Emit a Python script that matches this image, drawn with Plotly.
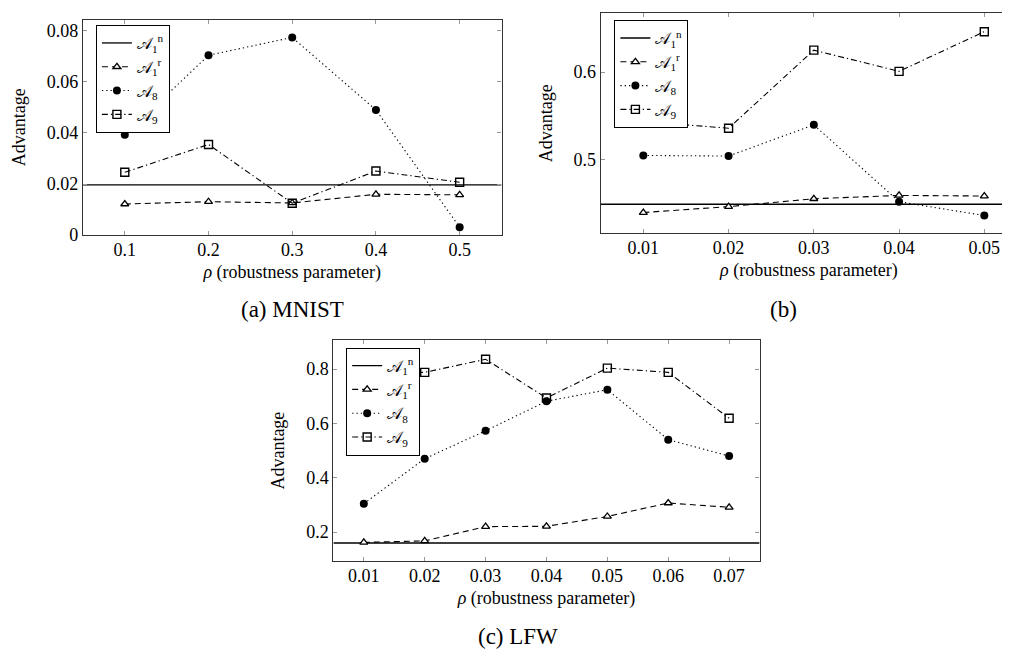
import plotly.graph_objects as go

# ---------------- data ----------------
rho_a = [0.1, 0.2, 0.3, 0.4, 0.5]
a_A1n = 0.0197
a_A1r = [0.0122, 0.0131, 0.0126, 0.0160, 0.0158]
a_A8 = [0.0393, 0.0704, 0.0774, 0.0490, 0.0031]
a_A9 = [0.0246, 0.0355, 0.0125, 0.0251, 0.0207]

rho_b = [0.01, 0.02, 0.03, 0.04, 0.05]
b_A1n = 0.4486
b_A1r = [0.4391, 0.4459, 0.4549, 0.4587, 0.4580]
b_A8 = [0.5045, 0.5038, 0.5395, 0.4515, 0.4357]
b_A9 = [0.5433, 0.5357, 0.6251, 0.6008, 0.6462]

rho_c = [0.01, 0.02, 0.03, 0.04, 0.05, 0.06, 0.07]
c_A1n = 0.160
c_A1r = [0.1623, 0.1680, 0.2203, 0.2215, 0.2577, 0.3072, 0.2915]
c_A8 = [0.3048, 0.4703, 0.5730, 0.6816, 0.7240, 0.5403, 0.4800]
c_A9 = [0.7900, 0.7880, 0.8360, 0.6937, 0.8036, 0.7880, 0.6190]

xt_a = [0.1, 0.2, 0.3, 0.4, 0.5]
xt_a_lbl = ["0.1", "0.2", "0.3", "0.4", "0.5"]
yt_a = [0, 0.02, 0.04, 0.06, 0.08]
yt_a_lbl = ["0", "0.02", "0.04", "0.06", "0.08"]
xt_b = [0.01, 0.02, 0.03, 0.04, 0.05]
xt_b_lbl = ["0.01", "0.02", "0.03", "0.04", "0.05"]
yt_b = [0.5, 0.6]
yt_b_lbl = ["0.5", "0.6"]
xt_c = [0.01, 0.02, 0.03, 0.04, 0.05, 0.06, 0.07]
xt_c_lbl = ["0.01", "0.02", "0.03", "0.04", "0.05", "0.06", "0.07"]
yt_c = [0.2, 0.4, 0.6, 0.8]
yt_c_lbl = ["0.2", "0.4", "0.6", "0.8"]

names = ["𝒜<sub>1</sub><sup>n</sup>", "𝒜<sub>1</sub><sup>r</sup>", "𝒜<sub>8</sub>", "𝒜<sub>9</sub>"]
captions = ["(a) MNIST", "(b)", "(c) LFW"]

W, H = 1010, 653
SERIF = "Liberation Serif, Times New Roman, serif"

panels = [
    dict(x=rho_a, n=a_A1n, r=a_A1r, s8=a_A8, s9=a_A9, xr=[0.05, 0.55], yr=[0.0, 0.0844],
         px=(75, 494), py=(11.7, 230.7), xt=(xt_a, xt_a_lbl), yt=(yt_a, yt_a_lbl),
         leg=(88, 17.3), cap=(284.5, 306)),
    dict(x=rho_b, n=b_A1n, r=b_A1r, s8=b_A8, s9=b_A9, xr=[0.005, 0.005 + (1010 - 593.3) / 8533.0],
         yr=[0.4151, 0.6677], px=(593.3, 1010), py=(5, 229), xt=(xt_b, xt_b_lbl), yt=(yt_b, yt_b_lbl),
         leg=(607, 12.3), cap=(776.7, 306)),
    dict(x=rho_c, n=c_A1n, r=c_A1r, s8=c_A8, s9=c_A9, xr=[0.005, 0.075], yr=[0.0935, 0.9065],
         px=(325.7, 752.3), py=(337.3, 561.7), xt=(xt_c, xt_c_lbl), yt=(yt_c, yt_c_lbl),
         leg=(338.5, 345), cap=(511, 638)),
]

fig = go.Figure()
layout = dict(width=W, height=H, margin=dict(l=0, r=0, t=0, b=0),
              paper_bgcolor="white", plot_bgcolor="white", showlegend=True,
              font=dict(family=SERIF, color="black"))
annotations = []

for i, p in enumerate(panels):
    k = "" if i == 0 else str(i + 1)
    xa, ya = "x" + k, "y" + k
    lg = "legend" + k
    common = dict(xaxis=xa, yaxis=ya, legend=lg, cliponaxis=False)
    fig.add_trace(go.Scatter(x=p["xr"], y=[p["n"], p["n"]], mode="lines", name=names[0],
                             line=dict(color="black", width=1.3), **common))
    fig.add_trace(go.Scatter(x=p["x"], y=p["r"], mode="lines+markers", name=names[1],
                             line=dict(color="black", width=1.1, dash="6px,4px"),
                             marker=dict(symbol="triangle-up", size=7, color="white",
                                         line=dict(color="black", width=1.3)), **common))
    fig.add_trace(go.Scatter(x=p["x"], y=p["s8"], mode="lines+markers", name=names[2],
                             line=dict(color="black", width=1.1, dash="1.3px,3px"),
                             marker=dict(symbol="circle", size=8, color="black"), **common))
    fig.add_trace(go.Scatter(x=p["x"], y=p["s9"], mode="lines+markers", name=names[3],
                             line=dict(color="black", width=1.1, dash="6px,3px,1.3px,3px"),
                             marker=dict(symbol="square-open", size=8,
                                         line=dict(color="black", width=1.4), color="black"), **common))

    x0, x1 = p["px"]
    yt0, yb0 = p["py"]
    axis_common = dict(showgrid=False, zeroline=False, showline=True, linecolor="#333",
                       linewidth=1.2, mirror="allticks", ticks="inside", ticklen=4,
                       tickcolor="#999", tickwidth=1, tickfont=dict(family=SERIF, size=18, color="black"))
    layout["xaxis" + k] = dict(domain=[x0 / W, min(x1 / W, 1.0)], range=p["xr"], anchor=ya,
                               tickmode="array", tickvals=p["xt"][0], ticktext=p["xt"][1],
                               ticklabelstandoff=-2,
                               title=dict(text="<i>ρ</i> (robustness parameter)",
                                          font=dict(family=SERIF, size=18), standoff=6),
                               **axis_common)
    layout["yaxis" + k] = dict(domain=[1 - yb0 / H, 1 - yt0 / H], range=p["yr"], anchor=xa,
                               tickmode="array", tickvals=p["yt"][0], ticktext=p["yt"][1],
                               title=dict(text="Advantage", font=dict(family=SERIF, size=18), standoff=16),
                               **axis_common)
    lx, ly = p["leg"]
    layout[lg] = dict(x=lx / W, y=1 - ly / H, xanchor="left", yanchor="top", xref="paper", yref="paper",
                      bgcolor="white", bordercolor="black", borderwidth=1,
                      font=dict(family=SERIF, size=16, color="black"), itemwidth=30,
                      tracegroupgap=0)
    cx, cy = p["cap"]
    annotations.append(dict(x=cx / W, y=1 - cy / H, xref="paper", yref="paper", text=captions[i],
                            showarrow=False, xanchor="center", yanchor="middle",
                            font=dict(family=SERIF, size=23, color="black")))

layout["annotations"] = annotations
fig.update_layout(**layout)
fig.write_html("out.html")
